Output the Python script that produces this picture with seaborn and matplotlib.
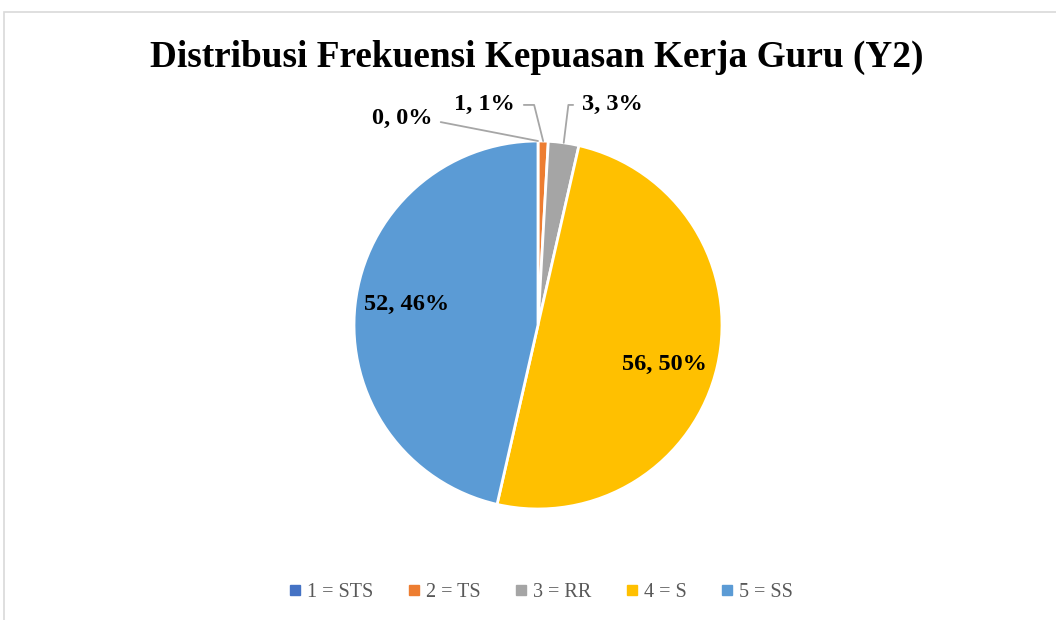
import numpy as np
import matplotlib
matplotlib.use("Agg")
import matplotlib.pyplot as plt
import seaborn as sns
from matplotlib.lines import Line2D
from matplotlib.patches import Rectangle

# data
categories = ["1 = STS", "2 = TS", "3 = RR", "4 = S", "5 = SS"]
counts = [0, 1, 3, 56, 52]
colors = ["#4472C4", "#ED7D31", "#A5A5A5", "#FFC000", "#5B9BD5"]
title = "Distribusi Frekuensi Kepuasan Kerja Guru (Y2)"

sns.set_theme(style="white")
plt.rcParams["font.family"] = ["Liberation Serif", "DejaVu Serif"]
plt.rcParams["text.color"] = "black"

W, H = 1056, 620
fig = plt.figure(figsize=(W / 100, H / 100), dpi=100)
# pie centre (538, 325), radius 184 px
ax = fig.add_axes([354 / W, (H - 509) / H, 368 / W, 368 / H])

palette = sns.color_palette(colors)
wedges, _ = ax.pie(counts, colors=palette, startangle=90, counterclock=False,
                   wedgeprops=dict(edgecolor="white", linewidth=2))
ax.set_xlim(-1, 1)
ax.set_ylim(-1, 1)
ax.set_aspect("equal")

total = sum(counts)
labels = [f"{c}, {round(100 * c / total)}%" for c in counts]

# outside labels with leader lines for the small slices
# (text position, alignment, side of text the line starts, angle into wedge)
outside = {
    0: ((-0.576, 1.12), "right", (1, 0.5), 169),
    1: ((-0.125, 1.196), "right", (1, 0.5), 104),
    2: ((0.239, 1.196), "left", (0, 0.5), 83),
}
lbl_font = dict(fontsize=17.5, fontweight="bold", color="black")
for i, w in enumerate(wedges):
    mid = np.deg2rad((w.theta1 + w.theta2) / 2)
    if i in outside:
        (tx, ty), ha, rel, angB = outside[i]
        ax.annotate(labels[i], xy=(np.cos(mid), np.sin(mid)), xytext=(tx, ty),
                    ha=ha, va="center", annotation_clip=False,
                    arrowprops=dict(arrowstyle="-", color="#A6A6A6", lw=1.3,
                                    shrinkA=4, shrinkB=0, relpos=rel,
                                    connectionstyle=f"angle,angleA=0,angleB={angB},rad=0"),
                    **lbl_font)
    else:
        r = 0.705 if i == 3 else 0.72
        ax.text(r * np.cos(mid), r * np.sin(mid) - (0.055 if i == 3 else -0.03),
                labels[i], ha="center", va="center", **lbl_font)

fig.text(537 / W, 1 - 57 / H, title, ha="center", va="center",
         fontsize=26.8, fontweight="bold")

handles = [Line2D([], [], marker="s", linestyle="none", markersize=6.5,
                  markerfacecolor=c, markeredgecolor=c) for c in palette]
fig.legend(handles, categories, loc="center", bbox_to_anchor=(540 / W, 1 - 592 / H),
           ncol=5, frameon=False, fontsize=14.5, handletextpad=0.2,
           columnspacing=1.6, labelcolor="#595959", handlelength=0.8)

fig.patches.append(Rectangle((4 / W, -0.1), 1.2, (H - 12) / H + 0.1,
                             transform=fig.transFigure, fill=False,
                             edgecolor="#D9D9D9", linewidth=1.2))

fig.savefig("out.png", dpi=100)
